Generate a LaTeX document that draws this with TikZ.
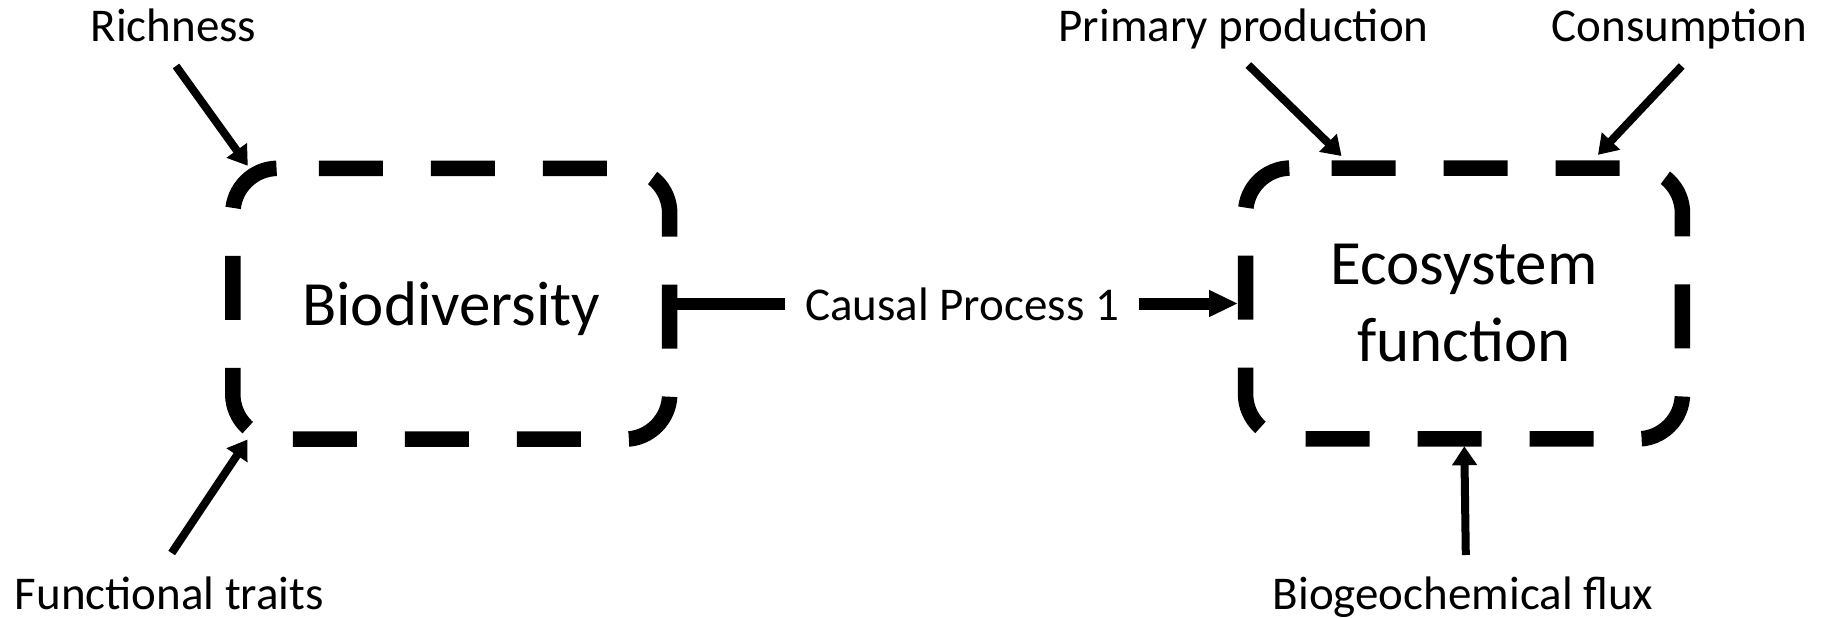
\documentclass[tikz,border=0pt]{standalone}
\usepackage{fontspec}
\setmainfont{Carlito}
\usetikzlibrary{arrows.meta}
\begin{document}
\begin{tikzpicture}[x=1pt,y=-1pt,
  outlabel/.style={font=\fontsize{47}{57}\selectfont, inner sep=0pt, anchor=base},
  boxarea/.style={minimum width=436.5pt, minimum height=270.5pt, inner sep=0pt,
    font=\fontsize{63}{77}\selectfont, align=center},
  boxline/.style={line width=15.5pt, dash pattern=on 64pt off 48pt, rounded corners=45pt},
  feed/.style={line width=8pt, -{Triangle[length=19pt,width=24pt]}},
  flow/.style={line width=12pt},
  flowarrow/.style={line width=12pt, -{Triangle[length=29pt,width=25pt]}}]
\useasboundingbox (0,0) rectangle (1831,618);

% the two dashed boxes (outline starts on the top edge, runs clockwise)
\node[boxarea, text height=44pt, text depth=0pt] (bio) at (451.25,303.75) {Biodiversity};
\node[boxarea] (eco) at (1464,303.5) {Ecosystem\\function};
\draw[boxline] ([xshift=86pt]bio.north west) -- (bio.north east) -- (bio.south east)
  -- (bio.south west) -- (bio.north west) -- ([xshift=86pt]bio.north west);
\draw[boxline] ([xshift=86pt]eco.north west) -- (eco.north east) -- (eco.south east)
  -- (eco.south west) -- (eco.north west) -- ([xshift=86pt]eco.north west);

% outer labels
\node[outlabel] (rich) at (173.4,41.7) {Richness};
\node[outlabel] (func) at (169.4,609) {Functional traits};
\node[outlabel] (prim) at (1243.6,41.7) {Primary production};
\node[outlabel] (cons) at (1679.5,41.7) {Consumption};
\node[outlabel] (biog) at (1463,609) {Biogeochemical flux};

% causal link between the boxes
\node[font=\fontsize{47}{57}\selectfont, inner xsep=20pt, inner ysep=0pt] (causal) at (962,304) {Causal Process 1};
\draw[flow] (bio.east) -- (bio.east -| causal.west);
\draw[flowarrow] (causal.east |- eco.west) -- ([xshift=-7.5pt]eco.west);

% arrows from the labels to the boxes
\draw[feed] ([shift={(2.6,24.3)}]rich.base) -- ([shift={(15,-2.5)}]bio.north west);
\draw[feed] ([shift={(2.3,-56)}]func.base) -- ([shift={(14.7,0.3)}]bio.south west);
\draw[feed] ([shift={(4.7,23.3)}]prim.base) -- ([shift={(96,-12)}]eco.north west);
\draw[feed] ([shift={(2.2,24.3)}]cons.base) -- ([shift={(-84.5,-13.2)}]eco.north east);
\draw[feed] ([shift={(2.8,-54)}]biog.base) -- ([shift={(0.3,7.3)}]eco.south);
\end{tikzpicture}
\end{document}
